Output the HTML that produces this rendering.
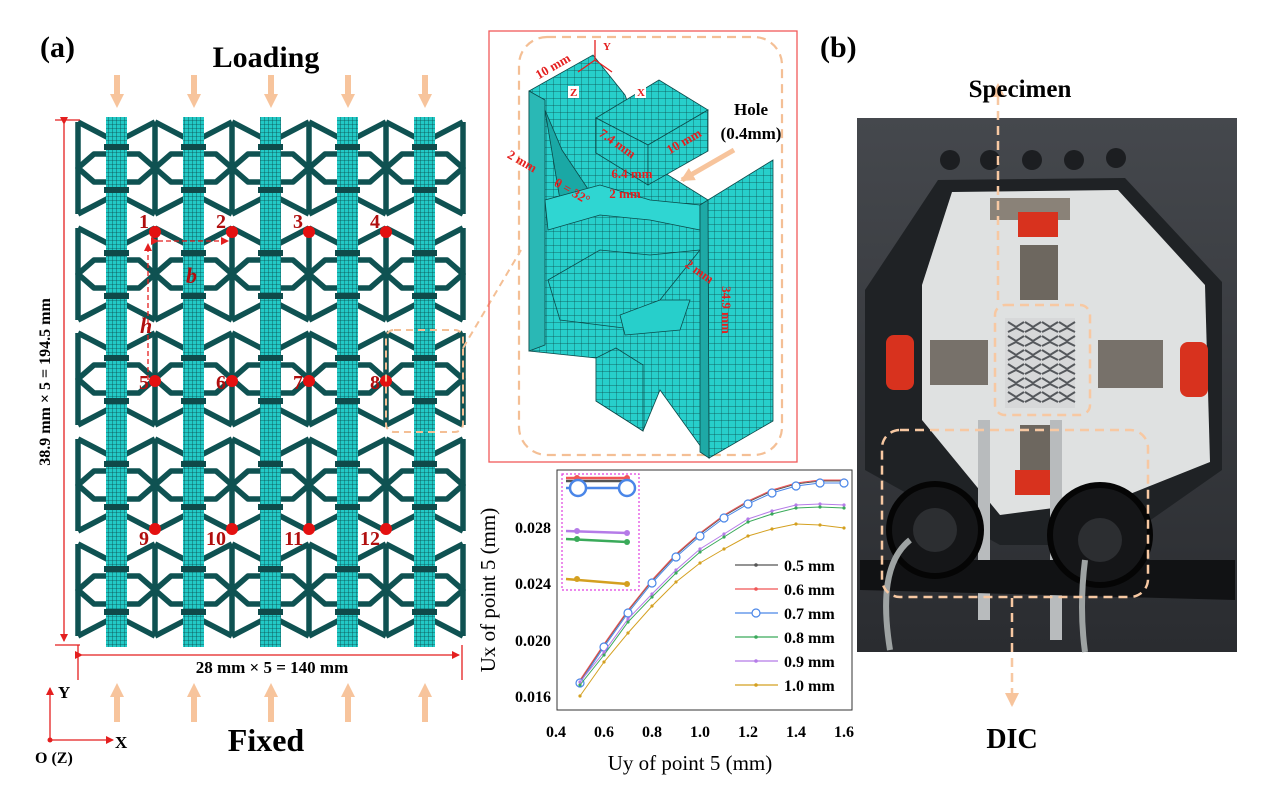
<!DOCTYPE html>
<html><head><meta charset="utf-8"><style>
html,body{margin:0;padding:0;background:#fff;}
svg{display:block;}
text{font-family:"Liberation Serif",serif;font-weight:bold;}
</style></head><body>
<svg id="s" width="1267" height="788" viewBox="0 0 1267 788" xmlns="http://www.w3.org/2000/svg">
<defs>
<pattern id="mesh" width="4" height="4" patternUnits="userSpaceOnUse">
<rect width="4" height="4" fill="#22c9c6"/><path d="M0 0H4M0 0V4" stroke="#0c4a4a" stroke-width="0.8"/>
</pattern>
<pattern id="mesh2" width="7" height="7" patternUnits="userSpaceOnUse">
<rect width="7" height="7" fill="#27cfcb"/><path d="M0 0H7M0 0V7" stroke="#0c4a4a" stroke-width="0.7"/>
</pattern>
<marker id="ar" markerWidth="8" markerHeight="8" refX="7" refY="4" orient="auto" markerUnits="userSpaceOnUse"><path d="M0 0L8 4L0 8z" fill="#e41f1f"/></marker>
<marker id="pa" markerWidth="14" markerHeight="14" refX="12" refY="7" orient="auto" markerUnits="userSpaceOnUse"><path d="M0 0L14 7L0 14z" fill="#f7c49c"/></marker>
<linearGradient id="ph" x1="0" y1="0" x2="0" y2="1"><stop offset="0" stop-color="#45484d"/><stop offset="1" stop-color="#2a2c30"/></linearGradient>
</defs>
<g id="lat"></g>

<g stroke="#e41f1f" stroke-width="1.3" fill="none">
<path d="M55 120H80M55 645H80M78 645V680M462 645V680"/>
<path d="M64 124V641" marker-start="url(#ar)" marker-end="url(#ar)"/>
<path d="M82 655H459" marker-start="url(#ar)" marker-end="url(#ar)"/>
<path d="M148 380V244" stroke-dasharray="5,3" marker-end="url(#ar)"/>
<path d="M158 241H228" stroke-dasharray="5,3" marker-start="url(#ar)" marker-end="url(#ar)"/>
<path d="M50 740V688" marker-end="url(#ar)"/><path d="M50 740H113" marker-end="url(#ar)"/>
</g>
<circle cx="50" cy="740" r="2.5" fill="#e41f1f"/>
<text x="50" y="382" font-size="16" text-anchor="middle" transform="rotate(-90 50 382)">38.9 mm × 5 = 194.5 mm</text>
<text x="272" y="673" font-size="17" text-anchor="middle">28 mm × 5 = 140 mm</text>
<text x="58" y="698" font-size="17">Y</text>
<text x="115" y="748" font-size="17">X</text>
<text x="35" y="763" font-size="16">O (Z)</text>
<text x="266" y="751" font-size="32" text-anchor="middle">Fixed</text>
<text x="266" y="67" font-size="30" text-anchor="middle">Loading</text>
<text x="40" y="57" font-size="30">(a)</text>
<text x="820" y="57" font-size="30">(b)</text>
<text x="140" y="333" font-size="22" font-style="italic" fill="#b10e0e">h</text>
<text x="186" y="283" font-size="22" font-style="italic" fill="#b10e0e">b</text>
<g id="arrows"></g>
<g id="pts"></g>

<rect x="386" y="330" width="77" height="102" rx="8" fill="none" stroke="#f4bf95" stroke-width="2" stroke-dasharray="7,5"/>
<path d="M463 348L521 250" stroke="#f4bf95" stroke-width="2" stroke-dasharray="7,5"/>

<rect x="489" y="31" width="308" height="431" fill="none" stroke="#f25a5a" stroke-width="1.3"/>
<rect x="519" y="37" width="263" height="418" rx="28" fill="none" stroke="#f4bf95" stroke-width="2.2" stroke-dasharray="9,6"/>
<g stroke="#0c4a4a" stroke-width="0.8">
<polygon points="529,91 593,55 625,95 640,135 660,170 708,200 709,458 660,390 643,431 596,401 596,358 529,351" fill="url(#mesh2)"/>
<polygon points="529,91 545,100 545,345 529,351" fill="#2ab8b5"/>
<polygon points="545,110 560,200 590,192 562,150" fill="#1aa8a5"/>
<polygon points="545,200 600,185 650,200 700,205 700,230 650,220 600,215 548,230" fill="#2fd6d2"/>
<polygon points="548,280 600,250 650,255 700,250 660,300 640,330 560,320" fill="url(#mesh2)"/>
<polygon points="596,118 659,80 708,110 648,145" fill="url(#mesh2)"/>
<polygon points="596,118 648,145 648,185 596,153" fill="url(#mesh2)"/>
<polygon points="648,145 708,110 708,151 648,185" fill="url(#mesh2)"/>
<polygon points="708,200 773,160 773,421 709,458" fill="url(#mesh2)"/>
<polygon points="700,205 708,200 709,458 700,452" fill="#1ea9a6"/>
<polygon points="596,358 616,348 643,365 643,431 596,401" fill="url(#mesh2)"/>
<polygon points="620,315 660,300 690,300 680,330 625,335" fill="#27cfcb"/>
</g>
<g fill="#e41f1f" font-size="13">
<text x="555" y="70" transform="rotate(-30 555 70)" text-anchor="middle">10 mm</text>
<text x="603" y="50" font-size="11">Y</text>
<rect x="568" y="86" width="11" height="12" fill="#fff"/><text x="570" y="96" font-size="11">Z</text>
<rect x="635" y="86" width="11" height="12" fill="#fff"/><text x="637" y="96" font-size="11">X</text>
<text x="615" y="147" transform="rotate(35 615 147)" text-anchor="middle">7.4 mm</text>
<text x="686" y="145" transform="rotate(-30 686 145)" text-anchor="middle">10 mm</text>
<text x="520" y="165" transform="rotate(30 520 165)" text-anchor="middle">2 mm</text>
<text x="632" y="178" text-anchor="middle">6.4 mm</text>
<text x="625" y="198" text-anchor="middle">2 mm</text>
<text x="570" y="195" transform="rotate(30 570 195)" text-anchor="middle">θ = 32°</text>
<text x="697" y="275" transform="rotate(35 697 275)" text-anchor="middle">2 mm</text>
<text x="722" y="310" transform="rotate(90 722 310)" text-anchor="middle">34.9 mm</text>
</g>
<path d="M595 60V40M595 60L578 72M595 60L612 72" stroke="#e41f1f" stroke-width="1.3"/>
<text x="751" y="115" font-size="17" text-anchor="middle">Hole</text>
<text x="751" y="139" font-size="17" text-anchor="middle">(0.4mm)</text>
<path d="M734 150L682 180" stroke="#f7c49c" stroke-width="5" marker-end="url(#pa)"/>

<rect x="557" y="470" width="295" height="240" fill="none" stroke="#333" stroke-width="1"/>
<g id="chart"></g>
<rect x="562" y="474" width="77" height="116" fill="none" stroke="#e040e0" stroke-width="1.2" stroke-dasharray="2,2"/>
<g font-size="16" text-anchor="end">
<text x="551" y="702">0.016</text><text x="551" y="646">0.020</text><text x="551" y="589">0.024</text><text x="551" y="533">0.028</text>
</g>
<g font-size="16" text-anchor="middle">
<text x="556" y="737">0.4</text><text x="604" y="737">0.6</text><text x="652" y="737">0.8</text><text x="700" y="737">1.0</text><text x="748" y="737">1.2</text><text x="796" y="737">1.4</text><text x="844" y="737">1.6</text>
</g>
<text x="495" y="590" font-size="21" text-anchor="middle" transform="rotate(-90 495 590)" style="font-weight:normal">Ux of point 5 (mm)</text>
<text x="690" y="770" font-size="21" text-anchor="middle" style="font-weight:normal">Uy of point 5 (mm)</text>

<rect x="857" y="118" width="380" height="534" fill="url(#ph)"/>
<g fill="#1c1e21"><circle cx="950" cy="160" r="10"/><circle cx="990" cy="160" r="10"/><circle cx="1032" cy="160" r="10"/><circle cx="1074" cy="160" r="10"/><circle cx="1116" cy="158" r="10"/></g>
<polygon points="938,180 1125,178 1222,282 1222,470 1115,545 1000,545 865,470 865,290" fill="#1f2225"/>
<polygon points="952,192 1118,190 1205,285 1210,462 1115,500 1000,515 922,420 922,285" fill="#dfe1e1"/>
<rect x="990" y="198" width="80" height="22" fill="#8a8278"/>
<rect x="1018" y="212" width="40" height="25" fill="#d8321e"/>
<rect x="1020" y="245" width="38" height="55" fill="#6d675f"/>
<rect x="1005" y="318" width="70" height="90" fill="#d7d8d9"/>
<g stroke="#55585c" stroke-width="2" fill="none" id="spec"></g>
<rect x="886" y="335" width="28" height="55" rx="8" fill="#d8321e"/>
<rect x="930" y="340" width="58" height="45" fill="#77716a"/>
<rect x="1180" y="342" width="28" height="55" rx="8" fill="#d8321e"/>
<rect x="1098" y="340" width="65" height="48" fill="#77716a"/>
<rect x="1020" y="425" width="36" height="45" fill="#6d675f"/>
<rect x="1015" y="470" width="45" height="25" fill="#d8321e"/>
<rect x="978" y="420" width="12" height="200" fill="#b8bbbd"/>
<rect x="1050" y="420" width="12" height="220" fill="#b8bbbd"/>
<path d="M860 560H1235V600L860 590z" fill="#111214"/>
<circle cx="935" cy="530" r="46" fill="#151618" stroke="#050505" stroke-width="6"/>
<circle cx="935" cy="530" r="22" fill="#2c2e31"/>
<circle cx="1100" cy="535" r="50" fill="#151618" stroke="#050505" stroke-width="6"/>
<circle cx="1100" cy="540" r="22" fill="#2c2e31"/>
<path d="M910 540C885 560 882 600 890 650M1085 560C1080 600 1082 630 1085 652" stroke="#9ea3a3" stroke-width="6" fill="none"/>
<rect x="995" y="305" width="95" height="110" rx="10" fill="none" stroke="#f7c8a2" stroke-width="2.5" stroke-dasharray="9,6"/>
<rect x="882" y="430" width="266" height="167" rx="18" fill="none" stroke="#f7c8a2" stroke-width="2.5" stroke-dasharray="9,6"/>
<path d="M998 300V85" stroke="#f7c8a2" stroke-width="2.5" stroke-dasharray="9,6" marker-end="url(#pa)"/>
<path d="M1012 598V705" stroke="#f7c8a2" stroke-width="2.5" stroke-dasharray="9,6" marker-end="url(#pa)"/>
<text x="1020" y="97" font-size="25" text-anchor="middle">Specimen</text>
<text x="1012" y="748" font-size="28" text-anchor="middle">DIC</text>
</svg>
<script>
var NS="http://www.w3.org/2000/svg";
function el(p,t,a){var e=document.createElementNS(NS,t);for(var k in a)e.setAttribute(k,a[k]);p.appendChild(e);return e;}
var lat=document.getElementById('lat');
var rows=[122,228,333,439,544],H=92;
var sg=el(lat,'g',{stroke:'#0f5252','stroke-width':'5.5',fill:'none','stroke-linejoin':'round'});
for(var i=0;i<5;i++){var x=78+77*i;
 for(var j=0;j<5;j++){var y=rows[j];
  el(sg,'path',{d:'M'+x+' '+y+'L'+(x+38.5)+' '+(y+20)+'L'+(x+77)+' '+y+
  'M'+x+' '+(y+46)+'L'+(x+16)+' '+(y+32)+'L'+(x+61)+' '+(y+32)+'L'+(x+77)+' '+(y+46)+'L'+(x+61)+' '+(y+60)+'L'+(x+16)+' '+(y+60)+'Z'+
  'M'+x+' '+(y+H)+'L'+(x+38.5)+' '+(y+72)+'L'+(x+77)+' '+(y+H)});
 }}
for(var i=0;i<6;i++){var x=78+77*i;for(var j=0;j<5;j++){el(sg,'path',{d:'M'+x+' '+rows[j]+'V'+(rows[j]+H)});}}
for(var i=0;i<5;i++){var x=78+77*i;
 el(lat,'rect',{x:x+28,y:117,width:21,height:530,fill:'url(#mesh)'});
 for(var j=0;j<5;j++){var y=rows[j];
  el(lat,'rect',{x:x+26,y:y+22,width:25,height:6,fill:'#0f4a4a'});
  el(lat,'rect',{x:x+26,y:y+65,width:25,height:6,fill:'#0f4a4a'});}
}
var ar=document.getElementById('arrows');
for(var i=0;i<5;i++){var x=117+77*i;
 el(ar,'path',{d:'M'+(x-3)+' 75H'+(x+3)+'V94H'+(x+7)+'L'+x+' 108L'+(x-7)+' 94H'+(x-3)+'Z',fill:'#f7c49c'});
 el(ar,'path',{d:'M'+(x-3)+' 722H'+(x+3)+'V697H'+(x+7)+'L'+x+' 683L'+(x-7)+' 697H'+(x-3)+'Z',fill:'#f7c49c'});}
var pts=document.getElementById('pts');var n=1;var ys=[232,381,529];
for(var j=0;j<3;j++)for(var i=0;i<4;i++){var x=155+77*i,y=ys[j];
 el(pts,'circle',{cx:x,cy:y,r:6,fill:'#e41010'});
 var t=el(pts,'text',{x:x-6,y:j==2?y+16:y+(j==1?8:-4),'font-size':'20','text-anchor':'end',fill:'#b10e0e'});t.textContent=n;n++;}
var ch=document.getElementById('chart');
function X(v){return 580+(v-0.5)*240;}
var xs=[0.5,0.6,0.7,0.8,0.9,1.0,1.1,1.2,1.3,1.4,1.5,1.6];
var blue=[683,647,613,583,557,536,518,504,493,486,483,483];
var green=[685,655,622,597,573,552,537,522,514,508,507,508];
var gold=[696,662,633,606,582,563,549,536,529,524,525,528];
var series=[['#555',blue.map(function(v){return v-2}),'dot'],['#f05555',blue.map(function(v){return v-3}),'dot'],['#4a86e8',blue,'open'],['#3aaa5a',green,'dot'],['#b57be8',green.map(function(v){return v-3}),'dot'],['#d4a020',gold,'dot']];
var labs=['0.5 mm','0.6 mm','0.7 mm','0.8 mm','0.9 mm','1.0 mm'];
series.forEach(function(s,k){
 var d=xs.map(function(v,i){return (i?'L':'M')+X(v)+' '+s[1][i];}).join('');
 el(ch,'path',{d:d,stroke:s[0],'stroke-width':1,fill:'none'});
 xs.forEach(function(v,i){ if(s[2]=='open')el(ch,'circle',{cx:X(v),cy:s[1][i],r:4,fill:'#fff',stroke:s[0],'stroke-width':1.2});else el(ch,'circle',{cx:X(v),cy:s[1][i],r:1.6,fill:s[0]});});
 var ly=565+24*k;
 el(ch,'path',{d:'M735 '+ly+'H778',stroke:s[0],'stroke-width':1.2});
 if(s[2]=='open')el(ch,'circle',{cx:756,cy:ly,r:4,fill:'#fff',stroke:s[0],'stroke-width':1.2});else el(ch,'circle',{cx:756,cy:ly,r:1.8,fill:s[0]});
 var t=el(ch,'text',{x:784,y:ly+6,'font-size':'16'});t.textContent=labs[k];
});
[['#555',481,481,2],['#f05555',478,478,3],['#4a86e8',488,488,0],['#b57be8',531,533,3],['#3aaa5a',539,542,3],['#d4a020',579,584,3]].forEach(function(s){
 el(ch,'path',{d:'M566 '+s[1]+'L627 '+s[2],stroke:s[0],'stroke-width':2.5});
 if(s[3]==0){el(ch,'circle',{cx:578,cy:488,r:8,fill:'#fff',stroke:s[0],'stroke-width':2.5});el(ch,'circle',{cx:627,cy:488,r:8,fill:'#fff',stroke:s[0],'stroke-width':2.5});}
 else{el(ch,'circle',{cx:577,cy:s[1],r:s[3],fill:s[0]});el(ch,'circle',{cx:627,cy:s[2],r:s[3],fill:s[0]});}
});
var sp=document.getElementById('spec');
for(var r=0;r<6;r++)for(var c=0;c<4;c++){var x=1008+c*17,y=322+r*14;el(sp,'path',{d:'M'+x+' '+y+'L'+(x+8)+' '+(y+5)+'L'+(x+16)+' '+y+'M'+x+' '+(y+10)+'L'+(x+8)+' '+(y+6)+'L'+(x+16)+' '+(y+10)});}
</script>
</body></html>
